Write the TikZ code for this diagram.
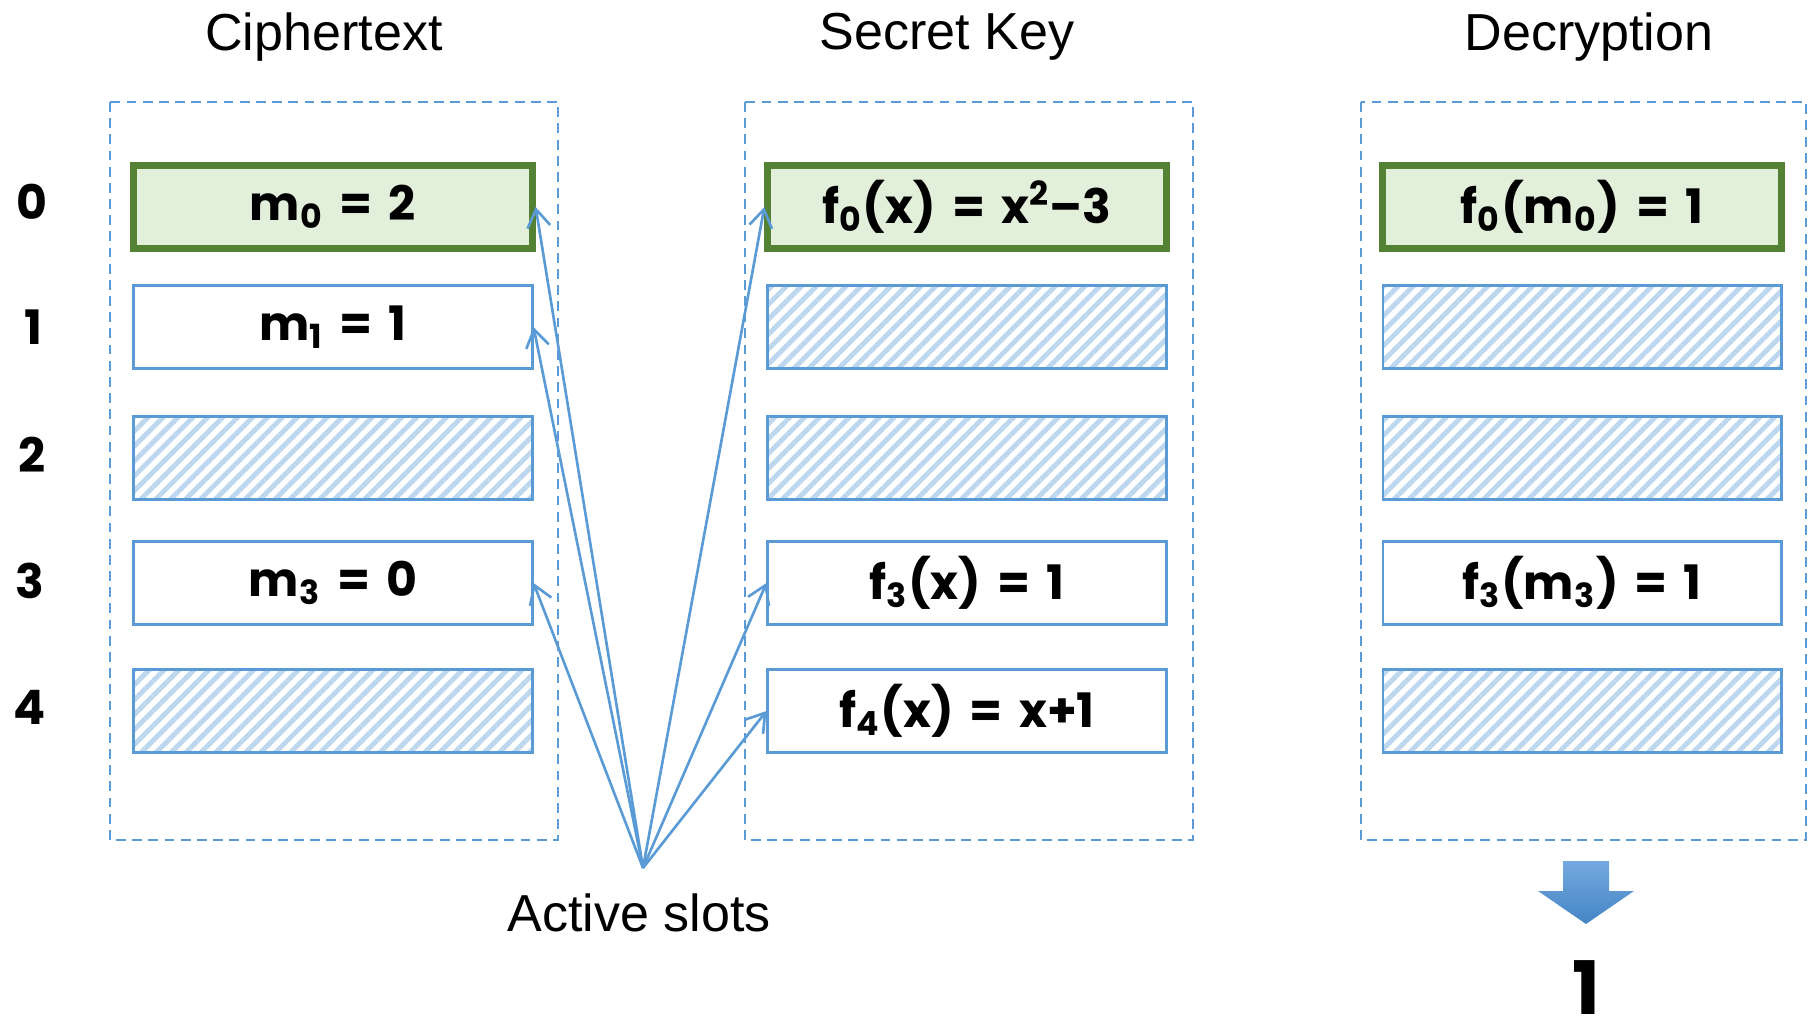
\documentclass[tikz,border=0pt]{standalone}
\usepackage{fontspec}
\setmainfont{Liberation Sans}
\newfontfamily\slotfont{Poppins}[WordSpace=1.6]
\usepackage{tikz}
\usetikzlibrary{positioning, arrows.meta, patterns.meta}

\definecolor{slotblue}{HTML}{5B9BD5}
\definecolor{hatchblue}{HTML}{BDD7EE}
\definecolor{keygreen}{HTML}{548235}
\definecolor{keyfill}{HTML}{E2EFDA}
\definecolor{downtop}{HTML}{74A9DE}
\definecolor{downbot}{HTML}{4484C6}

\begin{document}
\begin{tikzpicture}[
  x=0.01cm, y=-0.01cm,
  title/.style={font=\fontsize{14.8}{18}\selectfont},
  frame/.style={draw=slotblue, line width=0.7pt, dash pattern=on 2.8pt off 1.8pt},
  slot/.style={draw=slotblue, line width=0.8pt, minimum width=3.98cm,
    minimum height=0.83cm, inner sep=0pt,
    font=\slotfont\bfseries\fontsize{13.5}{16}\selectfont},
  hatched/.style={slot, pattern={Lines[angle=45, distance=3pt, line width=1.4pt]},
    pattern color=hatchblue},
  keyslot/.style={slot, draw=keygreen, line width=2pt, fill=keyfill},
  idx/.style={font=\slotfont\bfseries\fontsize{13.5}{16}\selectfont},
  link/.style={-{Straight Barb[length=5pt, width=6.5pt]}, draw=slotblue, line width=0.75pt},
]
  \useasboundingbox (0,0) rectangle (1816,1028);

  % titles
  \node[title] (cttitle) at (324,37) {Ciphertext};
  \node[title] (sktitle) at (947,37) {Secret Key};
  \node[title] (dctitle) at (1589,37) {Decryption};

  % dashed frames
  \draw[frame] (110,102) rectangle (558,840);
  \draw[frame] (745,102) rectangle (1193,840);
  \draw[frame] (1361,102) rectangle (1806,840);

  % slot indices
  \node[idx] (i0) at (32,202) {0};
  \node[idx] (i1) at (33,327) {1};
  \node[idx] (i2) at (32,455) {2};
  \node[idx] (i3) at (30,581) {3};
  \node[idx] (i4) at (30,707) {4};

  % ciphertext
  \node[keyslot] (ct0) at (333,207) {m\textsubscript{0} = 2};
  \node[slot]    (ct1) at (333,327) {m\textsubscript{1} = 1};
  \node[hatched] (ct2) at (333,458) {};
  \node[slot]    (ct3) at (333,583) {m\textsubscript{3} = 0};
  \node[hatched] (ct4) at (333,711) {};

  % secret key
  \node[keyslot] (sk0) at (967,207) {f\textsubscript{0}(x) = x\textsuperscript{2}–3};
  \node[hatched] (sk1) at (967,327) {};
  \node[hatched] (sk2) at (967,458) {};
  \node[slot]    (sk3) at (967,583) {f\textsubscript{3}(x) = 1};
  \node[slot]    (sk4) at (967,711) {f\textsubscript{4}(x) = x+1};

  % decryption
  \node[keyslot] (dc0) at (1582,207) {f\textsubscript{0}(m\textsubscript{0}) = 1};
  \node[hatched] (dc1) at (1582,327) {};
  \node[hatched] (dc2) at (1582,458) {};
  \node[slot]    (dc3) at (1582,583) {f\textsubscript{3}(m\textsubscript{3}) = 1};
  \node[hatched] (dc4) at (1582,711) {};

  % active slots
  \coordinate (hub) at (643,868);
  \node[title] (act) at (639,913) {Active slots};
  \draw[link] (hub) -- (ct0.east);
  \draw[link] (hub) -- (ct1.east);
  \draw[link] (hub) -- (ct3.east);
  \draw[link] (hub) -- (sk0.west);
  \draw[link] (hub) -- (sk3.west);
  \draw[link] (hub) -- (sk4.west);

  % result
  \shade[top color=downtop, bottom color=downbot]
    (1563,861) -- (1609,861) -- (1609,891) -- (1634,891) -- (1586,924)
    -- (1538,891) -- (1563,891) -- cycle;
  \node[idx, inner sep=0pt, font=\slotfont\bfseries\fontsize{21}{25}\selectfont] (res) at (1586,988) {1};
\end{tikzpicture}
\end{document}
